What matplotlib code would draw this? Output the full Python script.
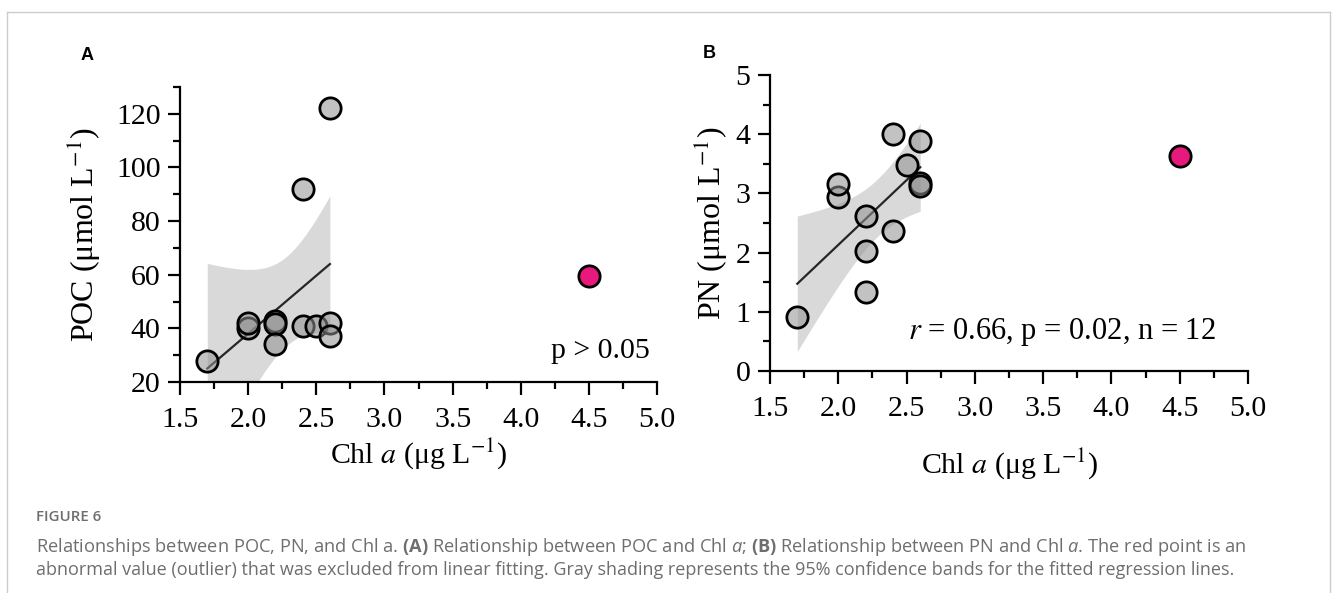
import numpy as np
import matplotlib
matplotlib.use("Agg")
import matplotlib.pyplot as plt
from matplotlib.ticker import MultipleLocator, FormatStrFormatter
from matplotlib.lines import Line2D

# data
chl = [1.7, 2.0, 2.0, 2.2, 2.2, 2.2, 2.4, 2.4, 2.5, 2.6, 2.6, 2.6]
poc = [27.8, 40.0, 42.0, 42.6, 41.8, 34.0, 92.0, 41.0, 41.0, 122.0, 42.0, 37.2]
pn = [0.91, 2.94, 3.16, 2.62, 2.02, 1.33, 4.00, 2.37, 3.48, 3.88, 3.17, 3.12]
outlier_chl = 4.5
outlier_poc = 59.5
outlier_pn = 3.63

x_ticks = [1.5, 2.0, 2.5, 3.0, 3.5, 4.0, 4.5, 5.0]
t_crit = 2.228  # t(0.975, df=10)

plt.rcParams['font.family'] = ['Liberation Serif', 'DejaVu Serif']
plt.rcParams['mathtext.fontset'] = 'custom'
plt.rcParams['mathtext.rm'] = 'Open Sans'
plt.rcParams['mathtext.it'] = 'Open Sans:italic'
plt.rcParams['mathtext.bf'] = 'Open Sans:bold'

fig = plt.figure(figsize=(13.33, 5.93), dpi=100)
W, H = 1333, 593


def px_axes(l, t, r, b):
    return fig.add_axes([l / W, 1 - b / H, (r - l) / W, (b - t) / H])


def fit_band(x, y):
    x = np.asarray(x)
    y = np.asarray(y)
    n = len(x)
    slope, intercept = np.polyfit(x, y, 1)
    resid = y - (slope * x + intercept)
    s = np.sqrt(np.sum(resid ** 2) / (n - 2))
    sxx = np.sum((x - x.mean()) ** 2)
    xf = np.linspace(x.min(), x.max(), 120)
    yf = slope * xf + intercept
    hw = t_crit * s * np.sqrt(1 / n + (xf - x.mean()) ** 2 / sxx)
    return xf, yf, yf - hw, yf + hw


def draw_panel(ax, y, y_out, ylim, ymaj, ymin, xlabelpad):
    xf, yf, lo, hi = fit_band(chl, y)
    ax.fill_between(xf, lo, hi, color='#d9d9d9', lw=0, zorder=1)
    ax.plot(xf, yf, color='#262626', lw=1.6, zorder=2)
    ax.scatter(chl, y, s=235, facecolor=(0.57, 0.57, 0.57, 0.55),
               edgecolor='black', linewidth=2.0, zorder=3)
    ax.scatter([outlier_chl], [y_out], s=235, facecolor='#e8197c',
               edgecolor='black', linewidth=2.0, zorder=3)
    ax.set_xlim(1.5, 5.0)
    ax.set_ylim(*ylim)
    ax.set_xticks(x_ticks)
    ax.xaxis.set_major_formatter(FormatStrFormatter('%.1f'))
    ax.xaxis.set_minor_locator(MultipleLocator(0.25))
    ax.yaxis.set_major_locator(MultipleLocator(ymaj))
    ax.yaxis.set_minor_locator(MultipleLocator(ymin))
    ax.yaxis.set_major_formatter(FormatStrFormatter('%d'))
    for side in ['top', 'right']:
        ax.spines[side].set_visible(False)
    for side in ['left', 'bottom']:
        ax.spines[side].set_linewidth(1.6)
    ax.tick_params(which='major', direction='out', length=9, width=1.6,
                   labelsize=21.5)
    ax.tick_params(axis='x', which='major', pad=9)
    ax.tick_params(axis='y', which='major', pad=5)
    ax.tick_params(which='minor', direction='out', length=5, width=1.6)
    ax.set_xlabel('Chl $a$ (μg L$^{-1}$)', fontsize=21.5, labelpad=xlabelpad,
                  math_fontfamily='stix')


axA = px_axes(180, 87, 657, 382)
draw_panel(axA, poc, outlier_poc, (20, 130), 20, 10, 2)
axA.set_ylabel('POC (μmol L$^{-1}$)', fontsize=23, labelpad=9,
               math_fontfamily='stix')
axA.text(0.985, 0.105, 'p > 0.05', transform=axA.transAxes, ha='right',
         va='center', fontsize=21.5)

axB = px_axes(770, 75, 1248, 371)
draw_panel(axB, pn, outlier_pn, (0, 5), 1, 0.5, 17)
axB.set_ylabel('PN (μmol L$^{-1}$)', fontsize=23, labelpad=4,
               math_fontfamily='stix')
axB.text(0.611, 0.132, '$r$ = 0.66, p = 0.02, n = 12', transform=axB.transAxes,
         ha='center', va='center', fontsize=22, math_fontfamily='stix')

# panel letters
fig.text(81 / W, 1 - 56 / H, 'A', fontsize=13, fontweight='bold',
         family='Liberation Sans', va='center')
fig.text(703 / W, 1 - 53 / H, 'B', fontsize=13, fontweight='bold',
         family='Liberation Sans', va='center')

# caption
grey = '#6e6e6e'
fig.text(36 / W, 1 - 517 / H, 'FIGURE 6', fontsize=10.8, family='Open Sans',
         fontweight='semibold', color=grey, va='center')
line1 = ('Relationships between POC, PN, and Chl a. $\\mathbf{(A)}$ Relationship '
         'between POC and Chl $\\mathit{a}$; $\\mathbf{(B)}$ Relationship between '
         'PN and Chl $\\mathit{a}$. The red point is an')
line2 = ('abnormal value (outlier) that was excluded from linear fitting. Gray '
         'shading represents the 95% confidence bands for the fitted regression lines.')
fig.text(36 / W, 1 - 547 / H, line1, fontsize=13.15, family='Open Sans',
         color=grey, va='center', math_fontfamily='custom')
fig.text(36 / W, 1 - 570 / H, line2, fontsize=13.0, family='Open Sans',
         color=grey, va='center')

# light frame round the figure
frame = dict(color='#cccccc', lw=1.0, transform=fig.transFigure)
fig.add_artist(Line2D([7.5 / W, 7.5 / W], [0, 1 - 11.5 / H], **frame))
fig.add_artist(Line2D([7.5 / W, 1329.5 / W], [1 - 11.5 / H, 1 - 11.5 / H], **frame))
fig.add_artist(Line2D([1329.5 / W, 1329.5 / W], [0, 1 - 11.5 / H], **frame))

fig.savefig('out.png', dpi=100)
